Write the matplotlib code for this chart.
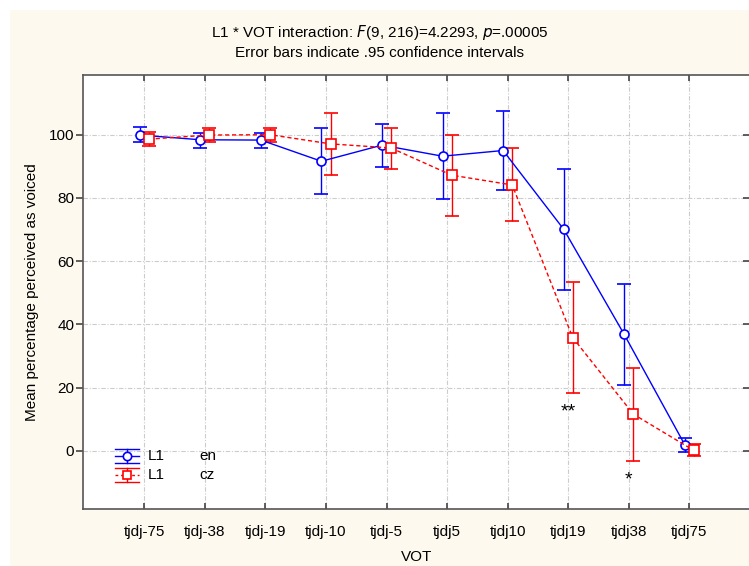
import matplotlib.pyplot as plt
from matplotlib.patches import Rectangle
from matplotlib.lines import Line2D
import numpy as np

plt.rcParams['font.family'] = ['Liberation Sans', 'DejaVu Sans']

vot = ['tjdj-75', 'tjdj-38', 'tjdj-19', 'tjdj-10', 'tjdj-5',
       'tjdj5', 'tjdj10', 'tjdj19', 'tjdj38', 'tjdj75']
en_mean = [99.9, 98.4, 98.3, 91.6, 96.7, 93.2, 95.0, 70.1, 36.8, 1.9]
en_lo = [97.6, 95.9, 95.9, 81.1, 89.7, 79.7, 82.6, 51.0, 20.8, -0.4]
en_hi = [102.3, 100.6, 100.6, 102.1, 103.5, 107.0, 107.5, 89.0, 52.8, 4.2]
cz_mean = [98.6, 99.9, 100.0, 97.1, 95.8, 87.2, 84.1, 35.8, 11.6, 0.1]
cz_lo = [96.4, 97.8, 97.8, 87.4, 89.3, 74.4, 72.7, 18.2, -3.2, -1.8]
cz_hi = [100.8, 102.1, 102.1, 106.9, 102.1, 99.9, 95.8, 53.4, 26.3, 2.3]
stars = ['', '', '', '', '', '', '', '**', '*', '']

x = np.arange(len(vot))
en_mean = np.array(en_mean)
cz_mean = np.array(cz_mean)
en_err = [en_mean - np.array(en_lo), np.array(en_hi) - en_mean]
cz_err = [cz_mean - np.array(cz_lo), np.array(cz_hi) - cz_mean]

fig = plt.figure(figsize=(7.49, 5.66), dpi=100)
fig.patches.append(Rectangle((10 / 749, 0), 1, 1 - 10 / 566, transform=fig.transFigure,
                             facecolor='#fef9ef', edgecolor='none', zorder=-10))
ax = fig.add_axes([0.1112, 0.1002, 0.8888, 0.7668])
ax.set_facecolor('white')

ax.errorbar(x - 0.075, en_mean, yerr=en_err, color='#0000ff', lw=1, ls='-',
            marker='o', ms=6.5, mfc='white', mec='#0000ff', mew=1.2,
            capsize=5, capthick=1, elinewidth=1, zorder=3)
ax.errorbar(x + 0.075, cz_mean, yerr=cz_err, color='#ff0000', lw=1, ls=(0, (3, 2)),
            marker='s', ms=6.5, mfc='white', mec='#ff0000', mew=1.2,
            capsize=5, capthick=1, elinewidth=1, zorder=3)

for i, s in enumerate(stars):
    if s:
        ax.text(x[i], cz_lo[i] - 6.0, s, ha='center', va='center', fontsize=14, color='black')

ax.set_xlim(-1.007, 9.985)
ax.set_ylim(-18.5, 118.8)
ax.set_xticks(x)
ax.set_xticklabels(vot, fontsize=11)
ax.set_yticks([0, 20, 40, 60, 80, 100])
ax.tick_params(axis='y', labelsize=11)
ax.tick_params(axis='x', direction='in', length=4, width=1.2, color='#444444',
               top=True, pad=11)
ax.tick_params(axis='y', which='both', left=True, right=True, width=1.2, color='#444444')
ax.yaxis.set_tick_params(which='major', direction='out', length=5, pad=1.5)
for t in ax.yaxis.get_major_ticks():
    t.tick2line.set_marker(0)  # right ticks point inward
    t.tick2line.set_markersize(4)
ax.grid(True, color='#cccccc', ls=(0, (4, 1.5, 1, 1.5)), lw=0.8)
for side in ['left', 'bottom', 'top']:
    ax.spines[side].set_color('#555555')
    ax.spines[side].set_linewidth(1.2)
ax.spines['right'].set_visible(False)

ax.set_xlabel('VOT', fontsize=11, labelpad=8)
ax.set_ylabel('Mean percentage perceived as voiced', fontsize=11, labelpad=7)

fig.text(379.5 / 749, 1 - 33 / 566, 'L1 * VOT interaction: $\\mathit{F}$(9, 216)=4.2293, $\\mathit{p}$=.00005',
         ha='center', va='center', fontsize=11)
fig.text(379.5 / 749, 1 - 53 / 566, 'Error bars indicate .95 confidence intervals',
         ha='center', va='center', fontsize=11)

# legend, drawn in the style of the original program
def legend_row(yc, color, ls, marker, label1, label2):
    x0, x1 = 0.0476, 0.0841
    xc = (x0 + x1) / 2
    dy = 0.016
    for yy in (yc - dy, yc + dy):
        ax.add_line(Line2D([x0, x1], [yy, yy], color=color, lw=1, transform=ax.transAxes))
    ax.add_line(Line2D([xc, xc], [yc - dy, yc + dy], color=color, lw=1, transform=ax.transAxes))
    ax.add_line(Line2D([x0, x1], [yc, yc], color=color, lw=1, ls=ls, transform=ax.transAxes))
    ax.add_line(Line2D([xc], [yc], color=color, marker=marker, ms=6, mfc='white',
                       mec=color, mew=1.2, transform=ax.transAxes))
    ax.text(0.0967, yc, label1, transform=ax.transAxes, va='center', fontsize=11)
    ax.text(0.175, yc, label2, transform=ax.transAxes, va='center', fontsize=11)

legend_row(0.1228, '#0000ff', '-', 'o', 'L1', 'en')
legend_row(0.0797, '#ff0000', (0, (2, 2)), 's', 'L1', 'cz')

fig.savefig('out.png', dpi=100, facecolor='white')
